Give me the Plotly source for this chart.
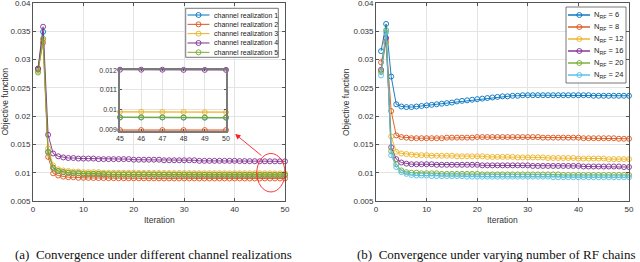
import plotly.graph_objects as go

iterations = list(range(1, 51))

# ---- (a) channel realizations ----
ch1 = [0.0282, 0.0349, 0.0137, 0.0109, 0.0103, 0.0101, 0.0100, 0.0099, 0.0099, 0.0098,
       0.0098, 0.0098, 0.0098, 0.0097, 0.0097, 0.0097, 0.0097, 0.0097, 0.0097, 0.0097,
       0.0097, 0.0097, 0.0097, 0.00968, 0.00968, 0.00967, 0.00967, 0.00966, 0.00966, 0.00966,
       0.00965, 0.00965, 0.00965, 0.00964, 0.00964, 0.00964, 0.00964, 0.00963, 0.00963, 0.00963,
       0.00963, 0.00963, 0.00962, 0.00962, 0.00962, 0.00962, 0.00962, 0.00961, 0.00961, 0.00961]
ch2 = [0.0284, 0.0330, 0.0128, 0.0099, 0.0095, 0.0093, 0.0092, 0.0092, 0.0091, 0.0091,
       0.00908, 0.00906, 0.00905, 0.00904, 0.00903, 0.00903, 0.00902, 0.00902, 0.00901, 0.00901,
       0.00901, 0.00900, 0.00900, 0.00900, 0.00900, 0.00899, 0.00899, 0.00899, 0.00899, 0.00899,
       0.00899, 0.00899, 0.00898, 0.00898, 0.00898, 0.00898, 0.00898, 0.00898, 0.00898, 0.00898,
       0.00898, 0.00898, 0.00898, 0.00898, 0.00898, 0.00898, 0.00898, 0.00898, 0.00898, 0.00898]
ch3 = [0.0279, 0.0334, 0.0143, 0.0113, 0.0106, 0.0104, 0.0103, 0.0102, 0.0102, 0.0101,
       0.0101, 0.0101, 0.0101, 0.0100, 0.0100, 0.0100, 0.0100, 0.0100, 0.0100, 0.0100,
       0.00998, 0.00998, 0.00997, 0.00997, 0.00996, 0.00996, 0.00995, 0.00995, 0.00995, 0.00994,
       0.00994, 0.00994, 0.00993, 0.00993, 0.00993, 0.00992, 0.00992, 0.00992, 0.00991, 0.00991,
       0.00991, 0.00991, 0.00990, 0.00990, 0.00990, 0.00990, 0.00989, 0.00989, 0.00988, 0.00988]
ch4 = [0.0284, 0.0358, 0.0167, 0.0134, 0.0129, 0.0127, 0.0126, 0.0126, 0.0125, 0.0125,
       0.0125, 0.0125, 0.0124, 0.0124, 0.0124, 0.0124, 0.0124, 0.0124, 0.0124, 0.0123,
       0.0123, 0.0123, 0.0123, 0.0123, 0.0123, 0.0122, 0.0122, 0.0122, 0.0122, 0.0122,
       0.0122, 0.0122, 0.0121, 0.0121, 0.0121, 0.0121, 0.0121, 0.0121, 0.0121, 0.0121,
       0.01205, 0.01205, 0.01204, 0.01203, 0.01202, 0.01202, 0.01202, 0.01201, 0.01201, 0.01201]
ch5 = [0.0277, 0.0337, 0.0136, 0.0108, 0.0103, 0.0101, 0.0100, 0.0099, 0.0099, 0.0098,
       0.0098, 0.0098, 0.0098, 0.0098, 0.0097, 0.0097, 0.0097, 0.0097, 0.0097, 0.0097,
       0.0097, 0.0097, 0.00968, 0.00968, 0.00967, 0.00967, 0.00967, 0.00966, 0.00966, 0.00966,
       0.00965, 0.00965, 0.00965, 0.00965, 0.00964, 0.00964, 0.00964, 0.00964, 0.00963, 0.00963,
       0.00963, 0.00963, 0.00963, 0.00962, 0.00962, 0.00962, 0.00962, 0.00962, 0.00961, 0.00961]
left_names = ["channel realization 1", "channel realization 2", "channel realization 3",
              "channel realization 4", "channel realization 5"]

# ---- (b) number of RF chains ----
n6 = [0.0315, 0.0363, 0.0270, 0.0221, 0.0217, 0.0216, 0.0216, 0.0217, 0.0218, 0.0219,
      0.0220, 0.0221, 0.0222, 0.0223, 0.0224, 0.0226, 0.0227, 0.0228, 0.0229, 0.0230,
      0.0231, 0.0232, 0.0233, 0.0234, 0.0235, 0.0235, 0.0236, 0.0236, 0.0237, 0.0237,
      0.0237, 0.0237, 0.0237, 0.0237, 0.0237, 0.0237, 0.0237, 0.0237, 0.0237, 0.0237,
      0.0237, 0.0237, 0.0236, 0.0236, 0.0236, 0.0236, 0.0236, 0.0236, 0.0236, 0.0236]
n8 = [0.0295, 0.0331, 0.0209, 0.0166, 0.0163, 0.0162, 0.0161, 0.0161, 0.0161, 0.0161,
      0.0161, 0.0161, 0.0161, 0.0162, 0.0162, 0.0162, 0.0162, 0.0162, 0.0162, 0.0163,
      0.0163, 0.0163, 0.0163, 0.0163, 0.0163, 0.0163, 0.0163, 0.0163, 0.0163, 0.0163,
      0.0163, 0.0163, 0.0162, 0.0162, 0.0162, 0.0162, 0.0162, 0.0162, 0.0162, 0.0162,
      0.0161, 0.0161, 0.0161, 0.0161, 0.0161, 0.0161, 0.0161, 0.0160, 0.0160, 0.0160]
n12 = [0.0280, 0.0330, 0.0164, 0.0137, 0.0134, 0.0133, 0.0132, 0.0131, 0.0131, 0.0131,
       0.0130, 0.0130, 0.0130, 0.0130, 0.0130, 0.0129, 0.0129, 0.0129, 0.0129, 0.0129,
       0.0129, 0.0128, 0.0128, 0.0128, 0.0128, 0.0128, 0.0128, 0.0127, 0.0127, 0.0127,
       0.0127, 0.0127, 0.0127, 0.0126, 0.0126, 0.0126, 0.0126, 0.0126, 0.0126, 0.0125,
       0.0125, 0.0125, 0.0125, 0.0125, 0.0125, 0.0124, 0.0124, 0.0124, 0.0124, 0.0124]
n16 = [0.0282, 0.0338, 0.0145, 0.0124, 0.0118, 0.0116, 0.0115, 0.0115, 0.0115, 0.0115,
       0.0115, 0.0114, 0.0114, 0.0114, 0.0114, 0.0114, 0.0114, 0.0114, 0.0114, 0.0114,
       0.0113, 0.0113, 0.0113, 0.0113, 0.0113, 0.0113, 0.0113, 0.0113, 0.0113, 0.0113,
       0.0112, 0.0112, 0.0112, 0.0112, 0.0112, 0.0112, 0.0112, 0.0112, 0.0112, 0.0112,
       0.0111, 0.0111, 0.0111, 0.0111, 0.0111, 0.0111, 0.0111, 0.0111, 0.0110, 0.0110]
n20 = [0.0278, 0.0352, 0.0138, 0.0115, 0.0104, 0.0101, 0.0100, 0.0100, 0.0099, 0.0099,
       0.0099, 0.0099, 0.0098, 0.0098, 0.0098, 0.0098, 0.0098, 0.0098, 0.0098, 0.0098,
       0.0097, 0.0097, 0.0097, 0.0097, 0.0097, 0.0097, 0.0097, 0.0097, 0.0097, 0.0097,
       0.0097, 0.0097, 0.0097, 0.0097, 0.0097, 0.0097, 0.0096, 0.0096, 0.0096, 0.0096,
       0.0096, 0.0096, 0.0096, 0.0096, 0.0096, 0.0096, 0.0096, 0.0096, 0.0096, 0.0096]
n24 = [0.0272, 0.0348, 0.0131, 0.0110, 0.0101, 0.0098, 0.0096, 0.0095, 0.0095, 0.0095,
       0.0094, 0.0094, 0.0094, 0.0094, 0.0094, 0.0094, 0.0094, 0.0093, 0.0093, 0.0093,
       0.0093, 0.0093, 0.0093, 0.0093, 0.0093, 0.0093, 0.0093, 0.0093, 0.0093, 0.0093,
       0.0093, 0.0093, 0.0093, 0.0093, 0.0092, 0.0092, 0.0092, 0.0092, 0.0092, 0.0092,
       0.0092, 0.0092, 0.0092, 0.0092, 0.0092, 0.0092, 0.0092, 0.0092, 0.0092, 0.0092]
right_rf = ["6", "8", "12", "16", "20", "24"]

x_ticks = [0, 10, 20, 30, 40, 50]
y_ticks = [0.005, 0.01, 0.015, 0.02, 0.025, 0.03, 0.035, 0.04]
y_tick_text = ["0.005", "0.01", "0.015", "0.02", "0.025", "0.03", "0.035", "0.04"]
inset_x_ticks = [45, 46, 47, 48, 49, 50]
inset_y_ticks = [0.009, 0.01, 0.011, 0.012]
inset_y_text = ["0.009", "0.01", "0.011", "0.012"]

colors = ['#0072BD', '#D95319', '#EDB120', '#7E2F8E', '#77AC30', '#4DBEEE']

W, H = 640, 262
def px(x):
    return x / W
def py(y):
    return 1 - y / H

SANS = "Liberation Sans, Arial, sans-serif"
SERIF = "Liberation Serif, Times New Roman, serif"

fig = go.Figure()

left_series = [ch1, ch2, ch3, ch4, ch5]
for i, vals in enumerate(left_series):
    c = colors[i]
    fig.add_trace(go.Scatter(x=iterations, y=vals, mode='lines+markers', name=left_names[i],
                             line=dict(color=c, width=0.9),
                             marker=dict(symbol='circle-open', size=5, color=c, line=dict(width=0.9)),
                             xaxis='x', yaxis='y', showlegend=False, cliponaxis=False))
for i, vals in enumerate(left_series):
    c = colors[i]
    fig.add_trace(go.Scatter(x=iterations[44:], y=vals[44:], mode='lines+markers',
                             line=dict(color=c, width=1.2),
                             marker=dict(symbol='circle-open', size=5, color=c, line=dict(width=0.9)),
                             xaxis='x3', yaxis='y3', showlegend=False, cliponaxis=False))

right_series = [n6, n8, n12, n16, n20, n24]
for i, vals in enumerate(right_series):
    c = colors[i]
    fig.add_trace(go.Scatter(x=iterations, y=vals, mode='lines+markers', name="N_RF = " + right_rf[i],
                             line=dict(color=c, width=0.9),
                             marker=dict(symbol='circle-open', size=5, color=c, line=dict(width=0.9)),
                             xaxis='x2', yaxis='y2', showlegend=False, cliponaxis=False))

ax = dict(showline=True, linecolor='#555', linewidth=0.8, mirror='ticks', ticks='inside',
          ticklen=3, tickcolor='#555', tickwidth=0.8, showgrid=True, gridcolor='#e4e4e4',
          gridwidth=0.8, zeroline=False, automargin=False, ticklabeloverflow='allow',
          tickfont=dict(family=SANS, size=8, color='#333'))
inset_ax = dict(ax)
inset_ax.update(linecolor='#7a7a7a', linewidth=1.5, tickfont=dict(family=SANS, size=7, color='#333'),
                ticklen=2)

y_range = [0.005 - 1e-7, 0.04 + 1e-7]

fig.update_layout(
    width=W, height=H, autosize=False,
    margin=dict(l=0, r=0, t=0, b=0, pad=0),
    paper_bgcolor='white', plot_bgcolor='white',
    xaxis=dict(ax, domain=[px(33), px(285)], range=[0, 50], tickvals=x_ticks, anchor='y'),
    yaxis=dict(ax, domain=[py(201), py(3)], range=y_range, tickvals=y_ticks,
               ticktext=y_tick_text, anchor='x'),
    xaxis2=dict(ax, domain=[px(376), px(629)], range=[0, 50], tickvals=x_ticks, anchor='y2'),
    yaxis2=dict(ax, domain=[py(201), py(3)], range=y_range, tickvals=y_ticks,
                ticktext=y_tick_text, anchor='x2'),
    xaxis3=dict(inset_ax, domain=[px(120), px(226)], range=[45, 50], tickvals=inset_x_ticks, anchor='y3'),
    yaxis3=dict(inset_ax, domain=[py(130.7), py(69.5)], range=[0.00895, 0.01203],
                tickvals=inset_y_ticks, ticktext=inset_y_text, anchor='x3'),
)

shapes = []
annotations = []

# red ellipse + arrow (panel a)
shapes.append(dict(type='circle', xref='x', yref='y', x0=44.4, x1=50.0, y0=0.0066, y1=0.0134,
                   line=dict(color='#ff2020', width=0.9)))
annotations.append(dict(x=40.1, y=0.01684, xref='x', yref='y', ax=45.6, ay=0.01283,
                        axref='x', ayref='y', text='', showarrow=True, arrowcolor='#ff2020',
                        arrowwidth=0.9, arrowhead=2, arrowsize=1.2))

# axis titles
for xc, yc in [(4.5, 102), (346, 102)]:
    annotations.append(dict(x=px(xc), y=py(yc), xref='paper', yref='paper', text='Objective function',
                            textangle=-90, showarrow=False, xanchor='center', yanchor='middle',
                            font=dict(family=SANS, size=8.5, color='#333')))
for xc in [159, 502]:
    annotations.append(dict(x=px(xc), y=py(220), xref='paper', yref='paper', text='Iteration',
                            showarrow=False, xanchor='center', yanchor='middle',
                            font=dict(family=SANS, size=8.5, color='#333')))

# captions
annotations.append(dict(x=px(153), y=py(254), xref='paper', yref='paper',
                        text='(a)  Convergence under different channel realizations',
                        showarrow=False, xanchor='center', yanchor='middle', borderpad=0,
                        font=dict(family=SERIF, size=13, color='#111')))
annotations.append(dict(x=px(496), y=py(254), xref='paper', yref='paper',
                        text='(b)  Convergence under varying number of RF chains',
                        showarrow=False, xanchor='center', yanchor='middle', borderpad=0,
                        font=dict(family=SERIF, size=13, color='#111')))

# legend (a)
shapes.append(dict(type='rect', xref='paper', yref='paper', x0=px(185.7), x1=px(278.3),
                   y0=py(57.3), y1=py(8.3), line=dict(color='#555', width=0.8), fillcolor='white'))
for i in range(5):
    yy = 15 + i * 9.33
    c = colors[i]
    shapes.append(dict(type='line', xref='paper', yref='paper', x0=px(187.5), x1=px(209.5),
                       y0=py(yy), y1=py(yy), line=dict(color=c, width=1)))
    shapes.append(dict(type='circle', xref='paper', yref='paper', xsizemode='pixel', ysizemode='pixel',
                       xanchor=px(198.5), yanchor=py(yy), x0=-2.5, x1=2.5, y0=-2.5, y1=2.5,
                       line=dict(color=c, width=0.9)))
    annotations.append(dict(x=px(211.5), y=py(yy), xref='paper', yref='paper', text=left_names[i],
                            showarrow=False, xanchor='left', yanchor='middle',
                            font=dict(family=SANS, size=7, color='#222')))

# legend (b)
shapes.append(dict(type='rect', xref='paper', yref='paper', x0=px(566), x1=px(626),
                   y0=py(83), y1=py(7), line=dict(color='#555', width=0.8), fillcolor='white'))
for i in range(6):
    yy = 15 + i * 12
    c = colors[i]
    shapes.append(dict(type='line', xref='paper', yref='paper', x0=px(568), x1=px(590),
                       y0=py(yy), y1=py(yy), line=dict(color=c, width=2), opacity=0.7))
    shapes.append(dict(type='circle', xref='paper', yref='paper', xsizemode='pixel', ysizemode='pixel',
                       xanchor=px(579.3), yanchor=py(yy), x0=-2.5, x1=2.5, y0=-2.5, y1=2.5,
                       line=dict(color=c, width=0.9)))
    annotations.append(dict(x=px(592), y=py(yy), xref='paper', yref='paper',
                            text='N<sub>RF</sub> = ' + right_rf[i],
                            showarrow=False, xanchor='left', yanchor='middle',
                            font=dict(family=SANS, size=7.5, color='#222')))

fig.update_layout(shapes=shapes, annotations=annotations)
fig.write_html("out.html", config={'displayModeBar': False},
               post_script="document.body.style.margin='0px';document.body.style.overflow='hidden';")
